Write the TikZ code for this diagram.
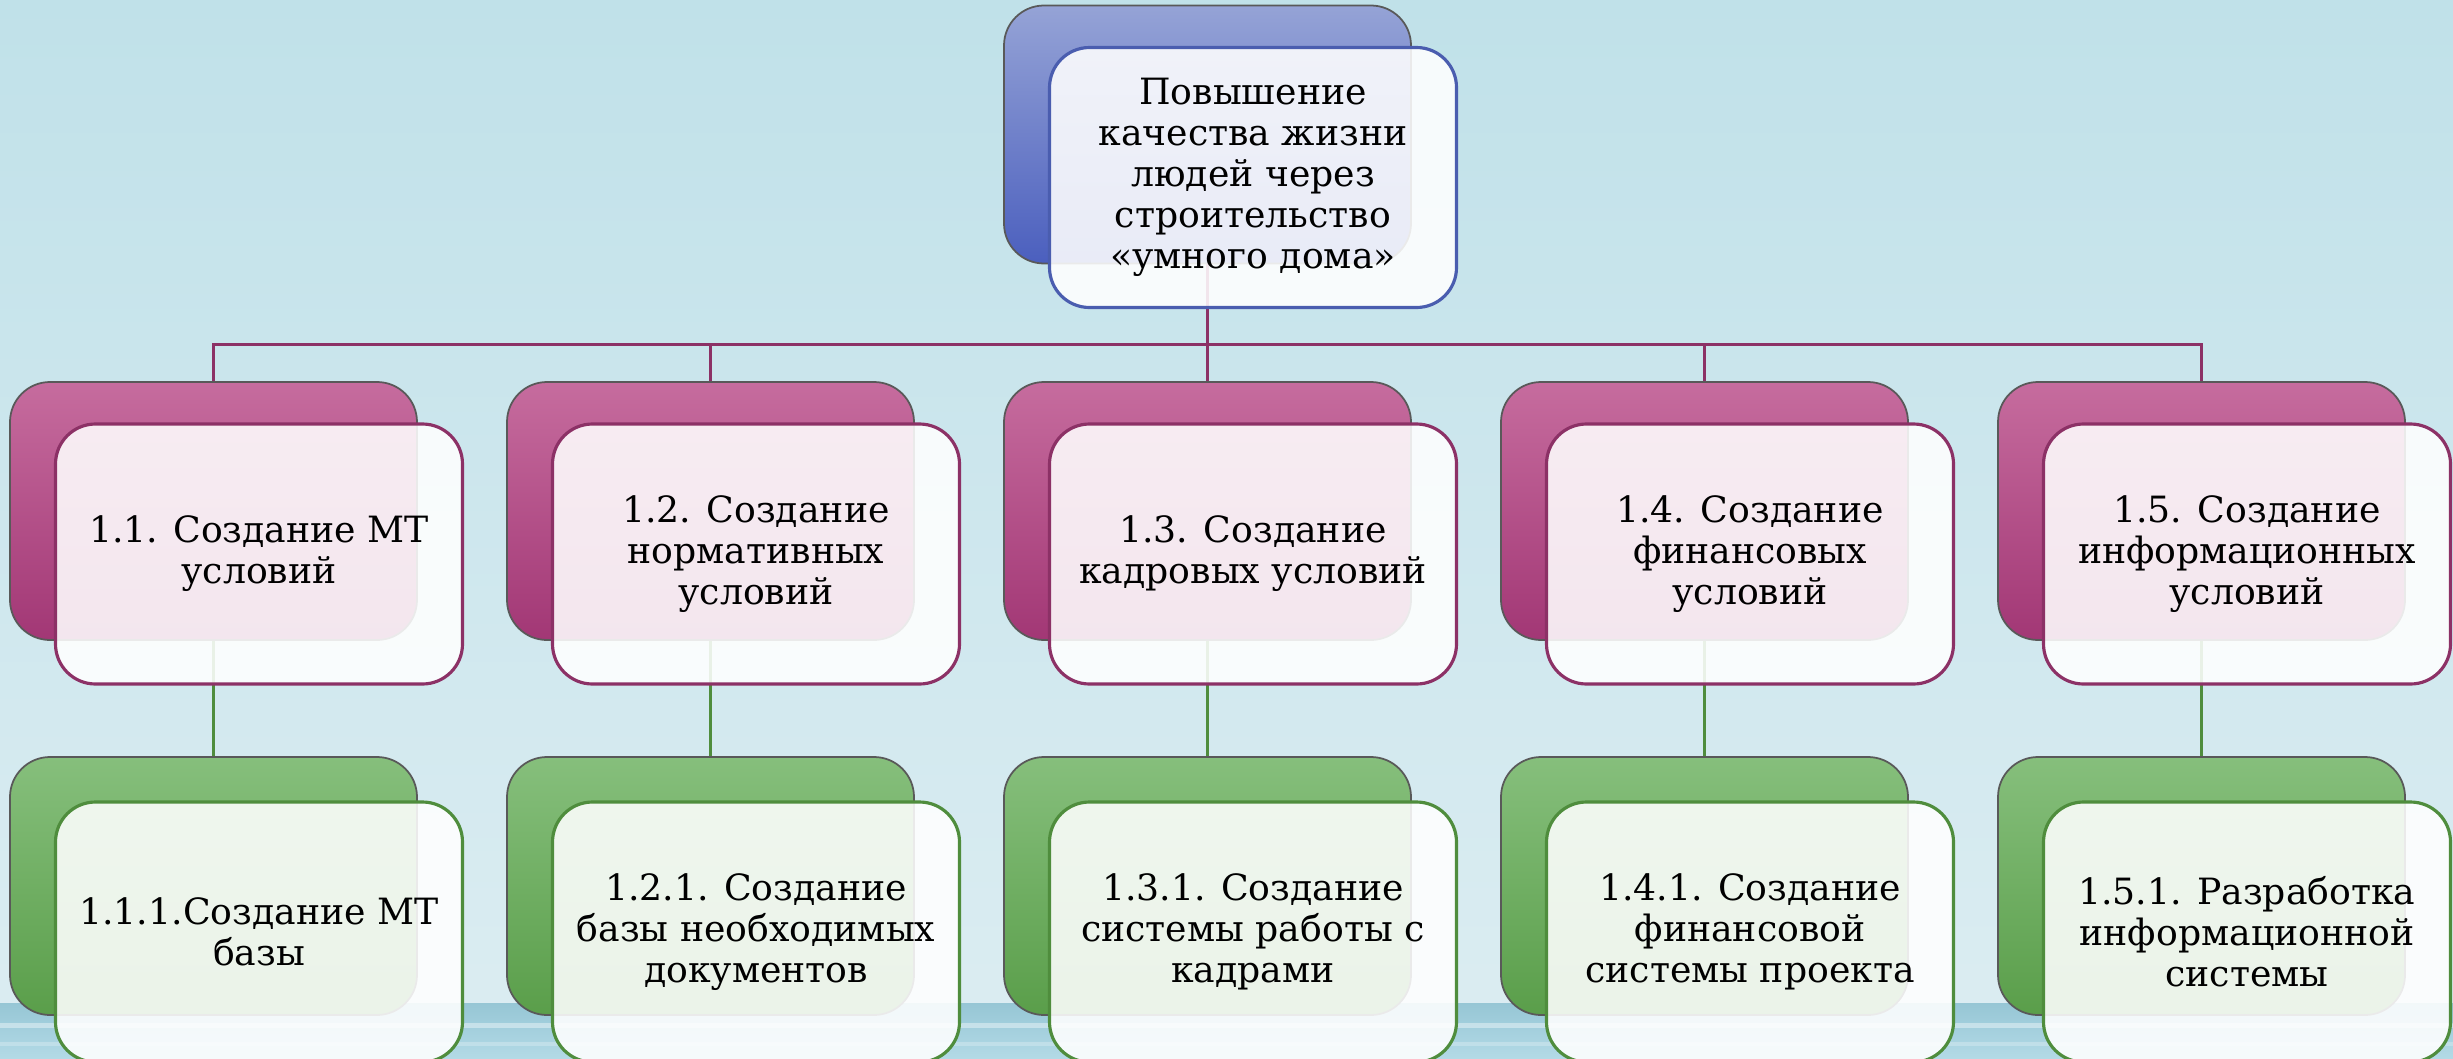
\documentclass[tikz,border=0pt]{standalone}
\usepackage{fontspec}
\setmainfont{DejaVu Serif}
\usetikzlibrary{positioning}

\definecolor{skytop}{HTML}{C0E1E9}
\definecolor{skybot}{HTML}{DCEDF2}
\definecolor{watertop}{HTML}{96C6D5}
\definecolor{waterbot}{HTML}{B3DAE6}
\definecolor{bluehi}{HTML}{95A3D6}
\definecolor{bluelo}{HTML}{4B5FBE}
\definecolor{blueline}{HTML}{4A5DAF}
\definecolor{pinkhi}{HTML}{C66C9E}
\definecolor{pinklo}{HTML}{A23775}
\definecolor{pinkline}{HTML}{8C3166}
\definecolor{greenhi}{HTML}{86BF7C}
\definecolor{greenlo}{HTML}{5A9E4A}
\definecolor{greenline}{HTML}{4F8D3D}

\begin{document}
\begin{tikzpicture}[node distance=4.97cm,
  back/.style={rounded corners=0.4cm,minimum width=4.07cm,minimum height=2.58cm,
    draw=black!65,line width=0.5pt},
  blueback/.style={back,top color=bluehi,bottom color=bluelo},
  pinkback/.style={back,top color=pinkhi,bottom color=pinklo},
  greenback/.style={back,top color=greenhi,bottom color=greenlo},
  front/.style={rounded corners=0.4cm,minimum width=4.07cm,minimum height=2.6cm,
    fill=white,fill opacity=0.88,text opacity=1,line width=0.9pt,align=center,
    font=\fontsize{10.3}{11.7}\selectfont},
  link/.style={line width=0.85pt}]
  \useasboundingbox (0,0) rectangle (24.53,10.58);
  % background
  \fill[top color=skytop,bottom color=skybot] (0,0) rectangle (24.53,10.58);
  \fill[top color=watertop,bottom color=waterbot] (0,0) rectangle (24.53,0.55);
  \fill[white,opacity=0.4] (0,0.3) rectangle (24.53,0.35);
  \fill[white,opacity=0.25] (0,0.12) rectangle (24.53,0.16);

  \node[blueback] (b0) at (12.075,9.235) {};
  \node[pinkback] (b3) at (12.075,5.47) {};
  \node[pinkback] (b2) [left of=b3] {};
  \node[pinkback] (b1) [left of=b2] {};
  \node[pinkback] (b4) [right of=b3] {};
  \node[pinkback] (b5) [right of=b4] {};
  \node[greenback] (c1) [below of=b1,node distance=3.75cm] {};
  \node[greenback] (c2) [below of=b2,node distance=3.75cm] {};
  \node[greenback] (c3) [below of=b3,node distance=3.75cm] {};
  \node[greenback] (c4) [below of=b4,node distance=3.75cm] {};
  \node[greenback] (c5) [below of=b5,node distance=3.75cm] {};

  \coordinate (hub) at ([yshift=-8mm]b0.south);
  \draw[link,pinkline] (b0.south) -- (hub);
  \draw[link,pinkline] (hub) -| (b1.north);
  \draw[link,pinkline] (hub) -| (b2.north);
  \draw[link,pinkline] (hub) -- (b3.north);
  \draw[link,pinkline] (hub) -| (b4.north);
  \draw[link,pinkline] (hub) -| (b5.north);
  \draw[link,greenline] (b1.south) -- (c1.north);
  \draw[link,greenline] (b2.south) -- (c2.north);
  \draw[link,greenline] (b3.south) -- (c3.north);
  \draw[link,greenline] (b4.south) -- (c4.north);
  \draw[link,greenline] (b5.south) -- (c5.north);

  \node[front,draw=blueline] (t0) at ([xshift=4.55mm,yshift=-4.3mm]b0.center)
    {Повышение\\качества жизни\\людей через\\строительство\\«умного дома»};
  \node[front,draw=pinkline] (t1) at ([xshift=4.55mm,yshift=-4.3mm]b1.center)
    {1.1. Создание МТ\\условий};
  \node[front,draw=pinkline] (t2) at ([xshift=4.55mm,yshift=-4.3mm]b2.center)
    {1.2. Создание\\нормативных\\условий};
  \node[front,draw=pinkline] (t3) at ([xshift=4.55mm,yshift=-4.3mm]b3.center)
    {1.3. Создание\\кадровых условий};
  \node[front,draw=pinkline] (t4) at ([xshift=4.55mm,yshift=-4.3mm]b4.center)
    {1.4. Создание\\финансовых\\условий};
  \node[front,draw=pinkline] (t5) at ([xshift=4.55mm,yshift=-4.3mm]b5.center)
    {1.5. Создание\\информационных\\условий};
  \node[front,draw=greenline] (s1) at ([xshift=4.55mm,yshift=-4.6mm]c1.center)
    {1.1.1.Создание МТ\\базы};
  \node[front,draw=greenline] (s2) at ([xshift=4.55mm,yshift=-4.6mm]c2.center)
    {1.2.1. Создание\\базы необходимых\\документов};
  \node[front,draw=greenline] (s3) at ([xshift=4.55mm,yshift=-4.6mm]c3.center)
    {1.3.1. Создание\\системы работы с\\кадрами};
  \node[front,draw=greenline] (s4) at ([xshift=4.55mm,yshift=-4.6mm]c4.center)
    {1.4.1. Создание\\финансовой\\системы проекта};
  \node[front,draw=greenline] (s5) at ([xshift=4.55mm,yshift=-4.6mm]c5.center)
    {1.5.1. Разработка\\информационной\\системы};
\end{tikzpicture}
\end{document}
